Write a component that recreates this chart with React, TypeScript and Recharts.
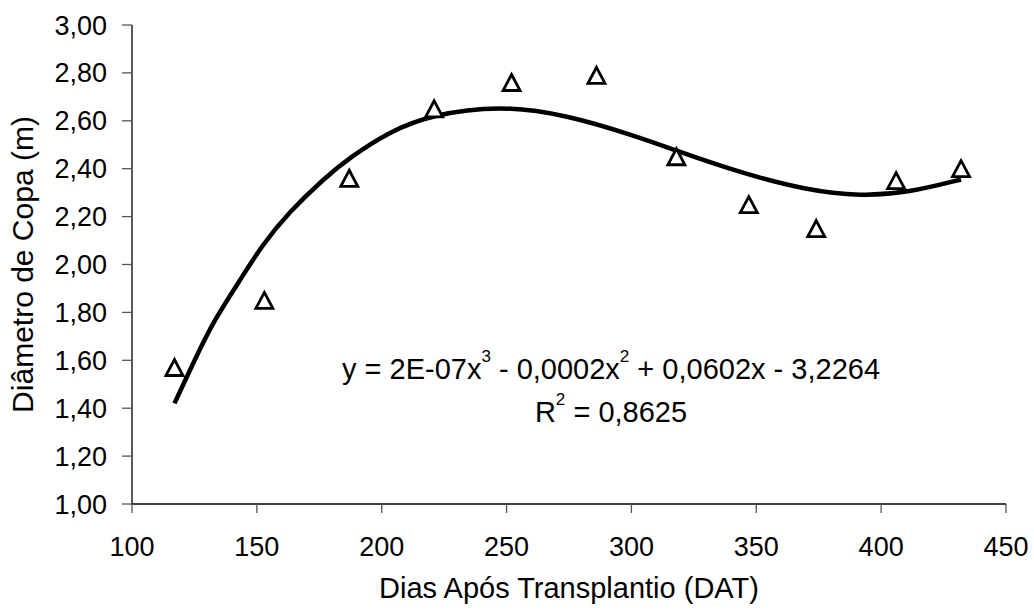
import React from 'react';
import {
  ComposedChart, Scatter, Line, XAxis, YAxis, Label, Customized
} from 'recharts';

// observed values (days after transplant, crown diameter in m)
const days = [117, 153, 187, 221, 252, 286, 318, 347, 374, 406, 432];
const diameter = [1.57, 1.85, 2.36, 2.65, 2.76, 2.79, 2.45, 2.25, 2.15, 2.35, 2.40];

// polynomial trend line
const trendDays = [117, 125, 133, 143, 152, 163, 177, 187, 203, 220, 247, 274, 302, 318, 343, 370, 392, 411, 432];
const trendValues = [1.42, 1.60, 1.77, 1.93, 2.08, 2.22, 2.36, 2.445, 2.555, 2.625, 2.665, 2.625, 2.535, 2.475, 2.385, 2.31, 2.285, 2.30, 2.355];

const xTicks = [100, 150, 200, 250, 300, 350, 400, 450];
const yTicks = [1, 1.2, 1.4, 1.6, 1.8, 2, 2.2, 2.4, 2.6, 2.8, 3];

const points = days.map((d, i) => ({ x: d, y: diameter[i] }));
const trend = trendDays.map((d, i) => ({ x: d, y: trendValues[i] }));

const FONT = '"Liberation Sans", Arial, sans-serif';

const Triangle = (props: any) => {
  const { cx, cy } = props;
  const w = 8.5;
  const h = 8;
  return (
    <path
      d={`M${cx},${cy - h} L${cx + w},${cy + h} L${cx - w},${cy + h} Z`}
      fill="#fff"
      stroke="#000"
      strokeWidth={2.8}
      strokeLinejoin="miter"
    />
  );
};

const Equation = () => (
  <g fontFamily={FONT} fill="#000">
    <text x={611} y={379} textAnchor="middle" fontSize={29}>
      y = 2E-07x<tspan dy={-17} fontSize={17}>3</tspan>
      <tspan dy={17}> - 0,0002x</tspan>
      <tspan dy={-17} fontSize={17}>2</tspan>
      <tspan dy={17}> + 0,0602x - 3,2264</tspan>
    </text>
    <text x={611} y={422} textAnchor="middle" fontSize={29}>
      R<tspan dy={-17} fontSize={17}>2</tspan>
      <tspan dy={17}> = 0,8625</tspan>
    </text>
  </g>
);

export default function App() {
  return (
    <div style={{ position: 'absolute', left: 0, top: 0, background: '#fff' }}>
      <ComposedChart
        width={1034}
        height={611}
        margin={{ top: 25, right: 28, bottom: 0, left: 0 }}
      >
        <XAxis
          type="number"
          dataKey="x"
          domain={[100, 450]}
          ticks={xTicks}
          allowDataOverflow
          height={107}
          tickSize={9}
          tickMargin={24}
          axisLine={{ stroke: '#000', strokeWidth: 1.3 }}
          tickLine={{ stroke: '#555', strokeWidth: 1.3 }}
          tick={{ fill: '#000', fontSize: 27, fontFamily: FONT }}
        >
          <Label
            content={({ viewBox }: any) => (
              <text
                x={viewBox.x + viewBox.width / 2}
                y={598}
                textAnchor="middle"
                fontSize={29}
                fontFamily={FONT}
                fill="#000"
              >
                Dias Após Transplantio (DAT)
              </text>
            )}
          />
        </XAxis>
        <YAxis
          type="number"
          dataKey="y"
          domain={[1, 3]}
          ticks={yTicks}
          allowDataOverflow
          width={132}
          tickSize={10}
          tickMargin={15}
          tickFormatter={(v: number) => v.toFixed(2).replace('.', ',')}
          axisLine={{ stroke: '#000', strokeWidth: 1.3 }}
          tickLine={{ stroke: '#555', strokeWidth: 1.3 }}
          tick={{ fill: '#000', fontSize: 27, fontFamily: FONT }}
        >
          <Label
            content={({ viewBox }: any) => {
              const cy = viewBox.y + viewBox.height / 2;
              return (
                <text
                  x={33}
                  y={cy}
                  transform={`rotate(-90, 33, ${cy})`}
                  textAnchor="middle"
                  fontSize={30}
                  fontFamily={FONT}
                  fill="#000"
                >
                  Diâmetro de Copa (m)
                </text>
              );
            }}
          />
        </YAxis>
        <Scatter
          data={points}
          dataKey="y"
          shape={Triangle}
          isAnimationActive={false}
        />
        <Line
          data={trend}
          dataKey="y"
          type="basis"
          stroke="#000"
          strokeWidth={4.5}
          dot={false}
          activeDot={false}
          isAnimationActive={false}
        />
        <Customized component={Equation} />
      </ComposedChart>
    </div>
  );
}
